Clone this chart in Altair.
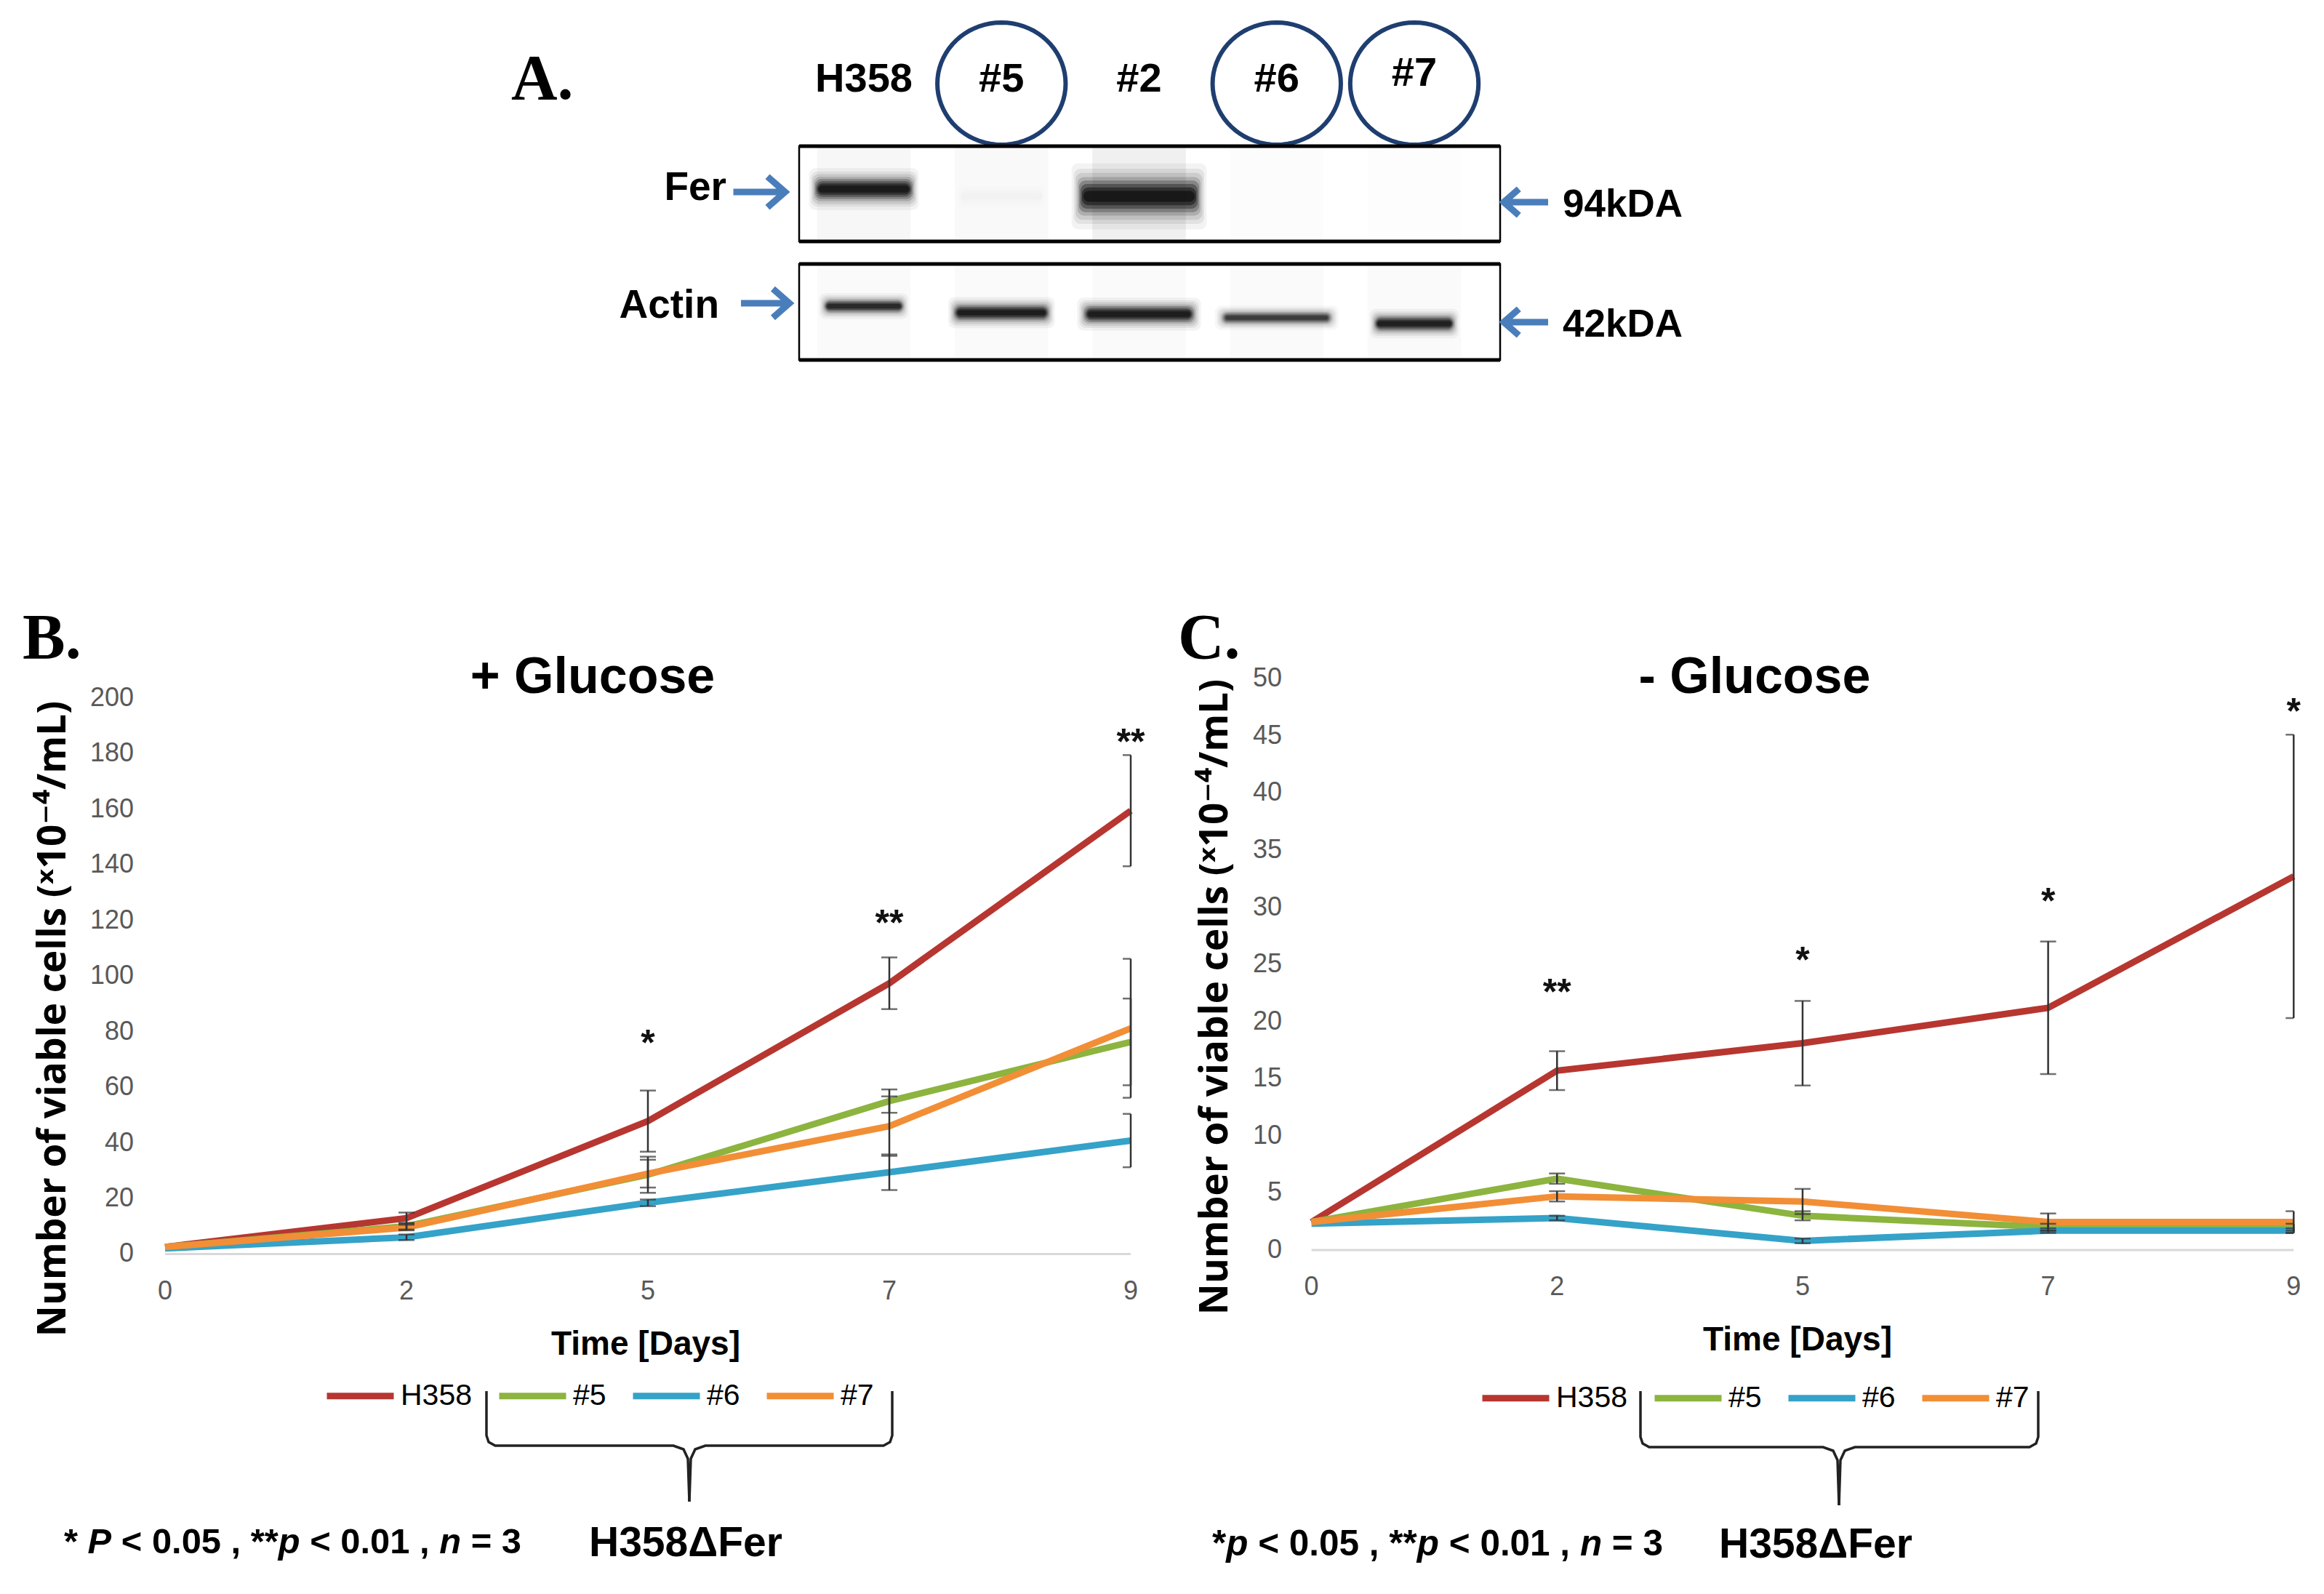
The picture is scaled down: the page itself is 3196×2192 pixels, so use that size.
import math
import altair as alt
import pandas as pd

W, H = 3180, 2176


def X(v):
    return v - 8


def Y(v):
    return v - 8


FONT = "Liberation Sans, Arial, Helvetica, sans-serif"
SERIF = "Liberation Serif, Times New Roman, serif"
YTF = "Open Sans, DejaVu Sans, sans-serif"

# ---------------- data ----------------
days = ["0", "2", "5", "7", "9"]
series = ["H358", "#5", "#6", "#7"]
colors = ["#B73630", "#8CB43F", "#35A2C8", "#F28E36"]

# + Glucose
b_h358 = [2.5, 12.9, 47.8, 97.4, 159.5]
b_5 = [2.5, 10.0, 28.5, 55.0, 76.3]
b_6 = [2.0, 6.0, 18.4, 29.4, 40.8]
b_7 = [2.5, 9.5, 28.9, 46.0, 81.2]
b_err_h358 = [0, 2.0, 11.0, 9.3, 20.0]
b_err_5 = [0, 1.2, 6.5, 4.2, 15.6]
b_err_6 = [0, 1.0, 1.2, 6.4, 9.6]
b_err_7 = [0, 1.0, 5.0, 10.7, 25.0]
b_ticks = [0, 20, 40, 60, 80, 100, 120, 140, 160, 180, 200]
b_star_days = ["5", "7", "9"]
b_star_txt = ["*", "**", "**"]
b_star_val = [78.6, 121.8, 186.9]

# - Glucose
c_h358 = [2.45, 15.7, 18.1, 21.2, 32.7]
c_5 = [2.45, 6.25, 3.0, 2.0, 2.0]
c_6 = [2.3, 2.8, 0.8, 1.7, 1.7]
c_7 = [2.45, 4.7, 4.25, 2.45, 2.45]
c_err_h358 = [0, 1.7, 3.7, 5.8, 12.4]
c_err_5 = [0, 0.45, 0.4, 0.3, 0.3]
c_err_6 = [0, 0.2, 0.2, 0.2, 0.2]
c_err_7 = [0, 0.45, 1.1, 0.75, 0.95]
c_ticks = [0, 5, 10, 15, 20, 25, 30, 35, 40, 45, 50]
c_star_days = ["2", "5", "7", "9"]
c_star_txt = ["**", "*", "*", "*"]
c_star_val = [23.2, 26.0, 31.2, 47.8]

# western blot
lanes = ["H358", "#5", "#2", "#6", "#7"]
circled = ["#5", "#6", "#7"]
fer_intensity = [0.97, 0.015, 1.0, 0.0, 0.0]
fer_center = [65, 75, 75, 75, 75]
fer_height = [24, 24, 38, 24, 24]
fer_width = [0.70, 0.62, 0.86, 0.70, 0.60]
fer_smear = [0.03, 0.025, 0.06, 0.012, 0.006]
actin_intensity = [0.8, 0.93, 0.95, 0.65, 0.9]
actin_center = [226, 235, 237, 242, 250]
actin_height = [15, 18, 19, 14, 17]
actin_width = [0.57, 0.68, 0.79, 0.79, 0.57]
actin_smear = [0.02, 0.02, 0.02, 0.02, 0.02]

layers = []


def txt(s, x, y, size, weight="normal", align="left", baseline="alphabetic",
        font=FONT, color="black", angle=0, style="normal"):
    kw = dict(fontSize=size, fontWeight=weight, align=align, baseline=baseline,
              font=font, color=color, fontStyle=style)
    if angle:
        kw["angle"] = angle
    return alt.Chart(pd.DataFrame({"t": [s]})).mark_text(**kw).encode(
        x=alt.value(X(x)), y=alt.value(Y(y)), text="t:N")


def panel(vals, errs, ticks, ymax, x0, x9, y0, ytop, sd, st, sv,
          leg_x, leg_cy, tick_right, xlab_y):
    xs = alt.Scale(type="point", domain=days, range=[X(x0), X(x9)], padding=0)
    ys = alt.Scale(type="linear", domain=[0, ymax], range=[Y(y0), Y(ytop)], nice=False)
    rows = []
    for s, v, e in zip(series, vals, errs):
        for d, m, ee in zip(days, v, e):
            rows.append(dict(day=d, series=s, value=m, lo=m - ee, hi=m + ee, err=ee))
    df = pd.DataFrame(rows)
    xenc = alt.X("day:O", scale=xs, axis=None)

    baseline = alt.Chart(pd.DataFrame({"v": [0]})).mark_rule(
        color="#D9D9D9", strokeWidth=3).encode(
        x=alt.value(X(x0)), x2=alt.value(X(x9)), y=alt.Y("v:Q", scale=ys, axis=None))

    lines = alt.Chart(df).mark_line(strokeWidth=9).encode(
        x=xenc,
        y=alt.Y("value:Q", scale=ys, axis=None),
        color=alt.Color(
            "series:N",
            scale=alt.Scale(domain=series, range=colors),
            legend=alt.Legend(
                title=None, orient="none", direction="horizontal",
                legendX=X(leg_x) - 4, legendY=Y(leg_cy) - 50, padding=0,
                symbolType="stroke", symbolSize=92 * 92, symbolStrokeWidth=9,
                labelFont=FONT, labelFontSize=41, labelColor="black",
                labelOffset=5, columnPadding=18,
            ),
        ),
    )

    edf = df[df.err > 0]
    rules = alt.Chart(edf).mark_rule(color="#333333", strokeWidth=2.5).encode(
        x=xenc, y=alt.Y("lo:Q", scale=ys, axis=None), y2="hi:Q")
    caps = alt.Chart(edf[edf.day != "9"]).transform_fold(
        ["lo", "hi"], as_=["k", "cap"]).mark_tick(
        color="#333333", size=22, thickness=2.5).encode(
        x=xenc, y=alt.Y("cap:Q", scale=ys, axis=None))
    caps9 = alt.Chart(edf[edf.day == "9"]).transform_fold(
        ["lo", "hi"], as_=["k", "cap"]).mark_tick(
        color="#333333", size=11, thickness=2.5, xOffset=-5.5).encode(
        x=xenc, y=alt.Y("cap:Q", scale=ys, axis=None))

    sdf = pd.DataFrame({"day": sd, "t": st, "v": sv})
    stars = alt.Chart(sdf).mark_text(
        fontSize=50, fontWeight="bold", font=FONT, baseline="alphabetic",
        dy=27, color="#111111").encode(
        x=alt.X("day:O", scale=xs, axis=None),
        y=alt.Y("v:Q", scale=ys, axis=None), text="t:N")

    tl = alt.Chart(pd.DataFrame({"v": ticks})).mark_text(
        align="right", baseline="middle", fontSize=36, font=FONT,
        color="#595959").encode(
        x=alt.value(X(tick_right)), y=alt.Y("v:Q", scale=ys, axis=None), text="v:Q")
    xl = alt.Chart(pd.DataFrame({"d": days})).mark_text(
        align="center", baseline="middle", fontSize=36, font=FONT,
        color="#595959").encode(
        x=alt.X("d:O", scale=xs, axis=None), y=alt.value(Y(xlab_y)), text="d:N")

    return alt.layer(baseline, lines, rules, caps, caps9, stars, tl, xl)


layers.append(panel([b_h358, b_5, b_6, b_7], [b_err_h358, b_err_5, b_err_6, b_err_7],
                    b_ticks, 200, 227, 1555, 1724.4, 960, b_star_days, b_star_txt,
                    b_star_val, 449, 1919, 184, 1776))
layers.append(panel([c_h358, c_5, c_6, c_7], [c_err_h358, c_err_5, c_err_6, c_err_7],
                    c_ticks, 50, 1803.6, 3154.3, 1719, 933.3, c_star_days, c_star_txt,
                    c_star_val, 2038, 1922, 1763, 1770))

# ---------------- panel texts ----------------
YT = "Number of viable cells (\u02E310\u207B\u2074/mL)"
layers += [
    txt("A.", 703, 136, 88, "bold", font=SERIF),
    txt("B.", 31, 905, 88, "bold", font=SERIF),
    txt("C.", 1620, 905, 88, "bold", font=SERIF),
    txt("+ Glucose", 815, 953, 70, "bold", align="center"),
    txt("- Glucose", 2413, 953, 70, "bold", align="center"),
    txt("Time [Days]", 888, 1863, 46, "bold", align="center"),
    txt("Time [Days]", 2472, 1857, 46, "bold", align="center"),
    txt(YT, 74, 1401, 53, "bold", align="center", baseline="middle", font=YTF, angle=270),
    txt(YT, 1672, 1371, 53, "bold", align="center", baseline="middle", font=YTF, angle=270),
    txt("H358\u0394Fer", 810, 2140, 57, "bold"),
    txt("H358\u0394Fer", 2364, 2142, 57, "bold"),
]

BW = {' ': .278, '*': .389, 'P': .667, '<': .584, '0': .556, '.': .278, '5': .556,
      ',': .278, 'p': .611, '1': .556, 'n': .611, '=': .584, '3': .556}


def rich(segments, x, y, width):
    total = sum(BW[c] for s, _ in segments for c in s)
    fs = width / total
    out = []
    cur = x
    for s, it in segments:
        lead = len(s) - len(s.lstrip(' '))
        start = cur + sum(BW[c] for c in s[:lead]) * fs
        stripped = s.strip(' ')
        out.append(txt(stripped, start, y, fs, "bold",
                       style="italic" if it else "normal"))
        cur += sum(BW[c] for c in s) * fs
    return out


layers += rich([("* ", False), ("P", True), (" < 0.05 , **", False), ("p", True),
                (" < 0.01 , ", False), ("n", True), (" = 3", False)], 88, 2136, 629)
layers += rich([("*", False), ("p", True), (" < 0.05 , **", False), ("p", True),
                (" < 0.01 , ", False), ("n", True), (" = 3", False)], 1667, 2139, 620)

# ---------------- braces ----------------
cx = alt.Scale(domain=[0, W], range=[0, W])
cy = alt.Scale(domain=[0, H], range=[0, H])


def brace_rows(l, r, top, bar, bot, m, tag):
    rows = []
    for side, sgn, edge in (("L", 1, l), ("R", -1, r)):
        pts = [(edge, top), (edge, bar - 14), (edge + sgn * 3, bar - 5),
               (edge + sgn * 12, bar), (m - sgn * 22, bar), (m - sgn * 8, bar + 5),
               (m - sgn * 2, bar + 18), (m, bot)]
        for k, (px, py) in enumerate(pts):
            rows.append(dict(px=X(px), py=Y(py), g=tag + side, o=k))
    return rows


brace_df = pd.DataFrame(brace_rows(669, 1227, 1913, 1988, 2065, 948, "B") +
                        brace_rows(2256, 2803, 1913, 1990, 2070, 2529, "C"))
layers.append(alt.Chart(brace_df).mark_line(color="#222222", strokeWidth=3.5).encode(
    x=alt.X("px:Q", scale=cx, axis=None), y=alt.Y("py:Q", scale=cy, axis=None),
    detail="g:N", order="o:Q"))

# ---------------- western blot ----------------
lx = alt.Scale(domain=[0, 4], range=[X(1188), X(1945)])
ly = alt.Scale(domain=[0, 300], range=[Y(195), Y(495)])

smear_rows = []
for sm, (t0, t1) in ((fer_smear, (8, 135)), (actin_smear, (170, 298))):
    for i in range(len(lanes)):
        smear_rows.append(dict(x1=i - 0.34, x2=i + 0.34, y1=t0, y2=t1, op=sm[i]))
smear_df = pd.DataFrame(smear_rows)

BLUR = [(2.4, 0.05), (2.0, 0.07), (1.7, 0.1), (1.4, 0.15), (1.15, 0.25),
        (0.9, 0.35), (0.65, 0.5), (0.4, 0.6)]
band_rows = []
for ints, cents, hts, wds in ((fer_intensity, fer_center, fer_height, fer_width),
                              (actin_intensity, actin_center, actin_height, actin_width)):
    for i in range(len(lanes)):
        for m, a in BLUR:
            h = hts[i] * m
            w = wds[i] * (0.9 + 0.1 * m) / 2
            band_rows.append(dict(x1=i - w, x2=i + w, y1=cents[i] - h / 2,
                                  y2=cents[i] + h / 2, op=ints[i] * a))
band_df = pd.DataFrame(band_rows)

smears = alt.Chart(smear_df).mark_rect(color="#000000").encode(
    x=alt.X("x1:Q", scale=lx, axis=None), x2="x2:Q",
    y=alt.Y("y1:Q", scale=ly, axis=None), y2="y2:Q",
    opacity=alt.Opacity("op:Q", scale=None))
bands = alt.Chart(band_df).mark_rect(color="#0A0A0A", cornerRadius=9).encode(
    x=alt.X("x1:Q", scale=lx, axis=None), x2="x2:Q",
    y=alt.Y("y1:Q", scale=ly, axis=None), y2="y2:Q",
    opacity=alt.Opacity("op:Q", scale=None))

lane_df = pd.DataFrame({"lane": lanes, "i": list(range(len(lanes)))})
lane_lab = alt.Chart(lane_df).transform_filter("datum.lane != '#7'").mark_text(
    fontSize=56, fontWeight="bold", font=FONT, align="center", baseline="alphabetic").encode(
    x=alt.X("i:Q", scale=lx, axis=None), y=alt.value(Y(126)), text="lane:N")
lane_lab7 = alt.Chart(lane_df).transform_filter("datum.lane == '#7'").mark_text(
    fontSize=56, fontWeight="bold", font=FONT, align="center", baseline="alphabetic").encode(
    x=alt.X("i:Q", scale=lx, axis=None), y=alt.value(Y(118)), text="lane:N")

pts = [(1.05 * math.cos(2 * math.pi * k / 72), math.sin(2 * math.pi * k / 72)) for k in range(72)]
ELLIPSE = "M" + "L".join(f"{a:.4f},{b:.4f}" for a, b in pts) + "Z"
circ_df = lane_df[lane_df.lane.isin(circled)]
ellipses = alt.Chart(circ_df).mark_point(
    shape=ELLIPSE, size=168 * 168, filled=False, stroke="#1F3E70",
    strokeWidth=6, opacity=1).encode(
    x=alt.X("i:Q", scale=lx, axis=None), y=alt.value(Y(115)))

layers.append(alt.layer(smears, bands, lane_lab, lane_lab7, ellipses))

# blot frames


def box(x1, y1, x2, y2):
    frame = alt.Chart(pd.DataFrame({"k": [0]})).mark_rect(
        fillOpacity=0, stroke="black", strokeWidth=2.5).encode(
        x=alt.value(X(x1)), x2=alt.value(X(x2)), y=alt.value(Y(y1)), y2=alt.value(Y(y2)))
    edges = [alt.Chart(pd.DataFrame({"k": [0]})).mark_rule(
        color="black", strokeWidth=5).encode(
        x=alt.value(X(x1)), x2=alt.value(X(x2)), y=alt.value(Y(yy))) for yy in (y1, y2)]
    return [frame] + edges


layers += box(1099, 201, 2063, 332)
layers += box(1099, 363, 2063, 495)

RIGHT = "M-1,0L0.8,0M0.22,-0.55L0.85,0L0.22,0.55"
LEFT = "M1,0L-0.8,0M-0.22,-0.55L-0.85,0L-0.22,0.55"


def arrow(shape, x, y, length):
    return alt.Chart(pd.DataFrame({"k": [0]})).mark_point(
        shape=shape, size=length * length, filled=False, stroke="#4A7EBB",
        strokeWidth=9, opacity=1, strokeJoin="miter").encode(
        x=alt.value(X(x)), y=alt.value(Y(y)))


layers += [
    arrow(RIGHT, 1047, 264, 77),
    arrow(RIGHT, 1055, 417, 72),
    arrow(LEFT, 2096, 278, 66),
    arrow(LEFT, 2096, 443, 66),
    txt("Fer", 999, 275, 55, "bold", align="right"),
    txt("Actin", 989, 437, 55, "bold", align="right"),
    txt("94kDA", 2149, 298, 53, "bold"),
    txt("42kDA", 2149, 463, 53, "bold"),
]

chart = alt.layer(*layers).resolve_scale(
    x="independent", y="independent", color="independent"
).properties(
    width=W, height=H, padding=0, background="white",
    autosize=alt.AutoSizeParams(type="none"),
).configure_view(strokeWidth=0)

chart.save("out.html", embed_options={"renderer": "svg", "actions": False})
